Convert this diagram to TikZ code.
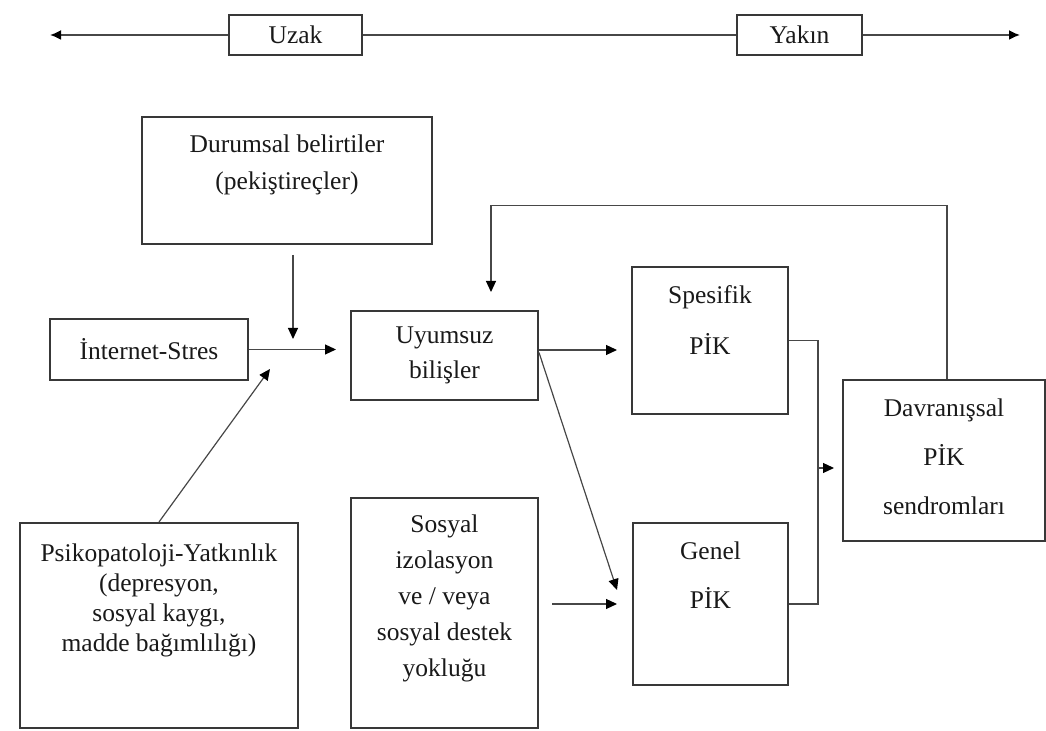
\documentclass[tikz,border=0pt]{standalone}
\usepackage{fontspec}
\setmainfont{Liberation Serif}
\usetikzlibrary{arrows.meta,calc}

\tikzset{
  box/.style={draw=black!78, line width=1pt, inner sep=2pt, align=center,
    font=\fontsize{12.75}{17.5}\selectfont, text=black!90},
  intext/.style={align=center, inner sep=0pt, text=black!90},
  line/.style={draw=black!72, line width=0.6pt},
  arr/.style={line, -{Triangle[length=5.5pt,width=5pt,fill=black,color=black]}},
  tl/.style={line, line width=0.9pt, -{Latex[length=5.5pt,width=5pt,fill=black,color=black]}}
}

\begin{document}
\begin{tikzpicture}[x=0.5pt,y=-0.5pt]
    \useasboundingbox (0,0) rectangle (1046,731);

    % time line
    \node[box, minimum width=66.5pt, minimum height=20pt] (uzak) at (295.5,35) {Uzak};
    \node[box, minimum width=62.5pt, minimum height=20pt] (yakin) at (799.5,35) {Yakın};
    \coordinate (farL) at (50,35);
    \coordinate (farR) at (1020,35);
    \draw[tl] (uzak.west) -- (farL);
    \draw[line, line width=0.9pt] (uzak.east) -- (yakin.west);
    \draw[tl] (yakin.east) -- (farR);

    % boxes
    \node[box, minimum width=145pt, minimum height=63.5pt,
      label={[intext, font=\fontsize{12.75}{18.5}\selectfont, yshift=8pt]center:{Durumsal belirtiler\\(pekiştireçler)}}]
      (durum) at (287,180.5) {};
    \node[box, minimum width=99pt, minimum height=30.5pt] (inet) at (149,349.5) {İnternet-Stres};
    \node[box, minimum width=93.5pt, minimum height=44.5pt] (uyum) at (444.5,355.5) {Uyumsuz\\bilişler};
    \node[box, minimum width=78pt, minimum height=73.5pt,
      label={[intext, font=\fontsize{12.75}{25.5}\selectfont, yshift=10pt]center:{Spesifik\\PİK}}]
      (spes) at (710,340.5) {};
    \node[box, minimum width=77.5pt, minimum height=81pt,
      label={[intext, font=\fontsize{12.75}{24.5}\selectfont, yshift=14.25pt]center:{Genel\\PİK}}]
      (genel) at (710.5,604) {};
    \node[box, minimum width=101pt, minimum height=80.5pt,
      label={[intext, font=\fontsize{12.75}{24.5}\selectfont, yshift=2pt]center:{Davranışsal\\PİK\\sendromları}}]
      (davr) at (944,461) {};
    \node[box, minimum width=93.5pt, minimum height=115pt,
      label={[intext, font=\fontsize{12.75}{18}\selectfont, yshift=7.75pt]center:{Sosyal\\izolasyon\\ve / veya\\sosyal destek\\yokluğu}}]
      (sosyal) at (444.5,613.5) {};
    \node[box, minimum width=139pt, minimum height=102.5pt,
      label={[intext, font=\fontsize{12.75}{15}\selectfont, yshift=12.75pt]center:{Psikopatoloji-Yatkınlık\\(depresyon,\\sosyal kaygı,\\madde bağımlılığı)}}]
      (psiko) at (159,625.5) {};

    % connectors
    \coordinate (join) at (293,349);
    \coordinate (merge) at (818,468);
    \draw[arr] ($(durum.south -| join)+(0,10)$) -- ($(join)+(0,-10)$);
    \draw[arr] (inet.east) -- ($(inet.east -| uyum.west)+(-14,0)$);
    \draw[arr] (psiko.north) -- ($(join)+(-23,20)$);
    \draw[arr] ($(davr.north)+(3,0)$) -- ++(0,-174) -| ($(uyum.north)+(46.5,-18)$);
    \draw[arr] ($(uyum.east)+(0,-5.5)$) -- ($(spes.west)+(-14,9.5)$);
    \draw[arr] ($(uyum.east)+(0,-3)$) -- ($(genel.west)+(-15,-14)$);
    \draw[arr] ($(genel.west -| sosyal.east)+(13,0)$) -- ($(genel.west)+(-15,0)$);
    \draw[line] (spes.east) -| (merge) |- (genel.east);
    \draw[arr] (merge) -- ($(merge -| davr.west)+(-8,0)$);
\end{tikzpicture}
\end{document}
